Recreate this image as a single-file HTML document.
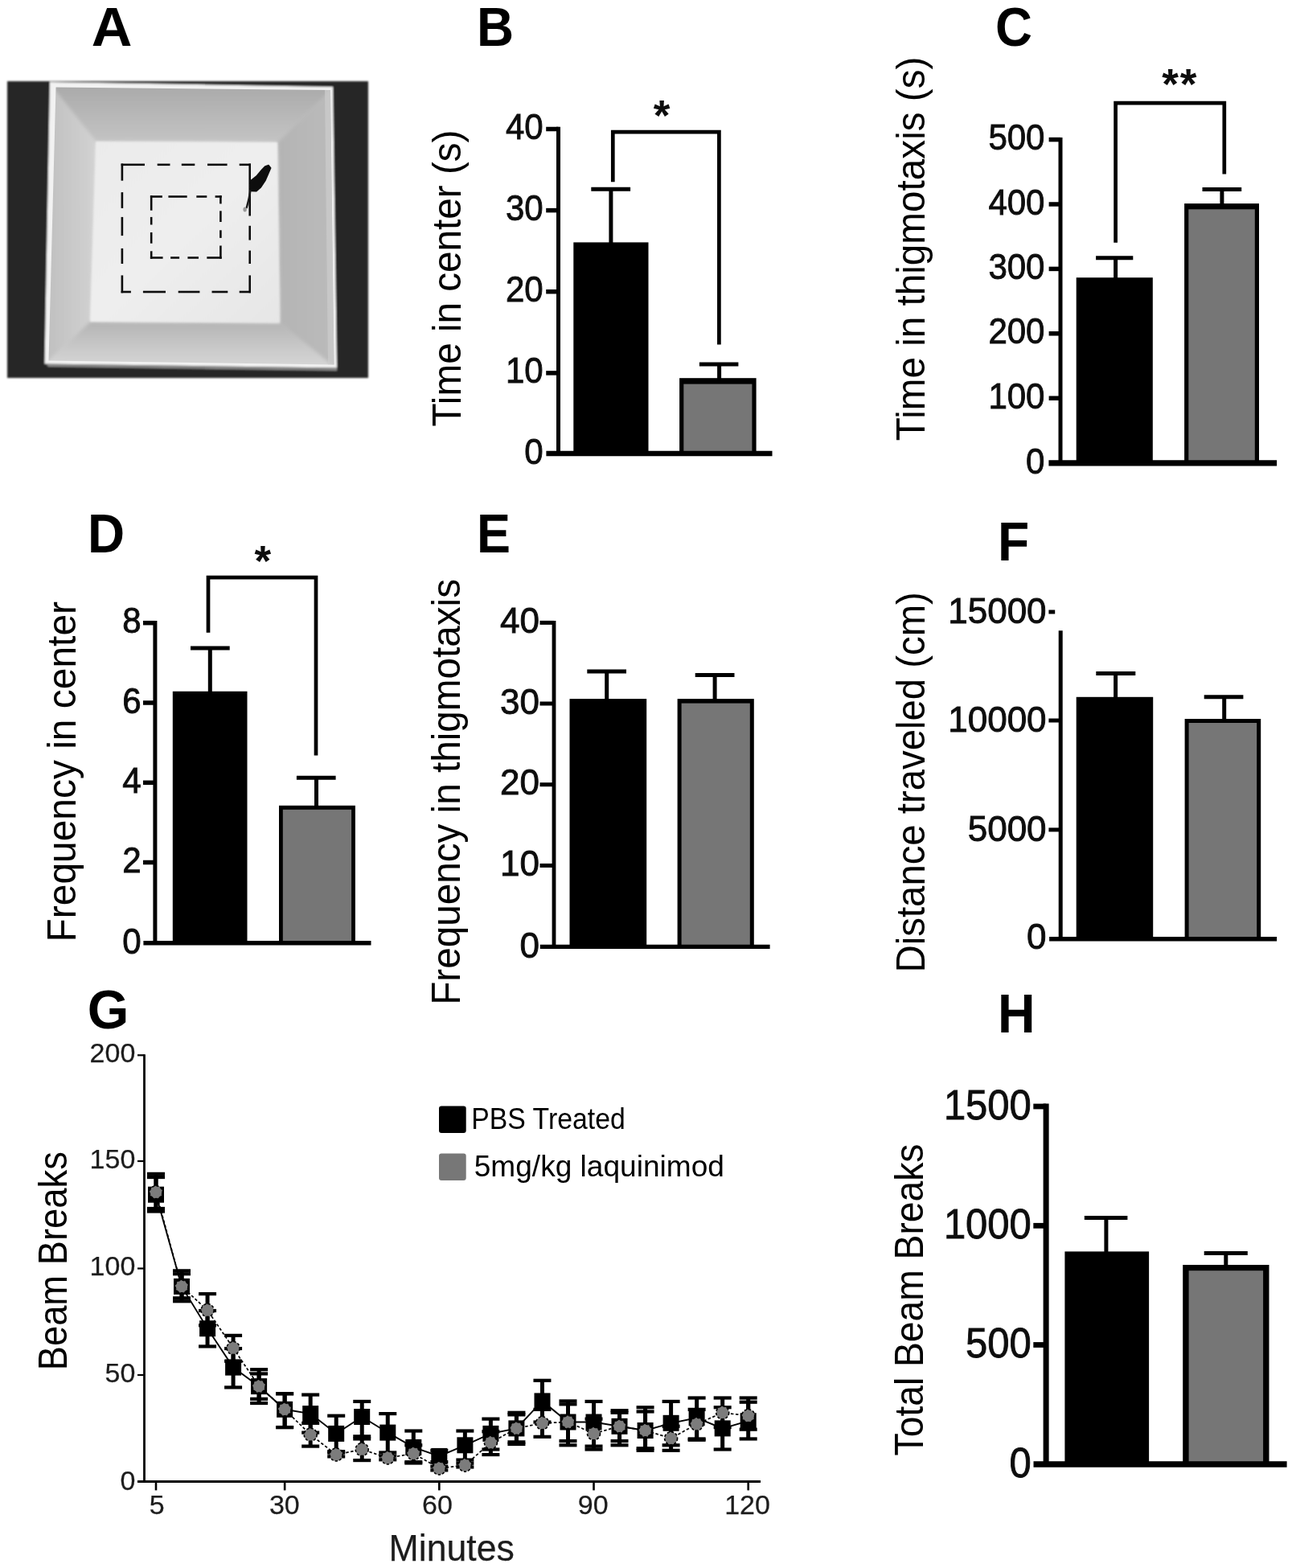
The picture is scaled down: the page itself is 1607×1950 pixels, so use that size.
<!DOCTYPE html>
<html lang="en"><head><meta charset="utf-8"><title>Figure</title>
<style>
html,body{margin:0;padding:0;background:#fff;}
body{width:1607px;height:1950px;overflow:hidden;}
svg{display:block;font-family:"Liberation Sans", sans-serif;}
</style></head><body>
<svg width="1607" height="1950" viewBox="0 0 1607 1950">
<defs>
<linearGradient id="gTop" x1="0" y1="0" x2="0" y2="1"><stop offset="0" stop-color="#a6a6a6"/><stop offset="1" stop-color="#c4c4c4"/></linearGradient>
<linearGradient id="gBot" x1="0" y1="0" x2="0" y2="1"><stop offset="0" stop-color="#b4b4b4"/><stop offset="0.6" stop-color="#cecece"/><stop offset="1" stop-color="#dcdcdc"/></linearGradient>
<linearGradient id="gLeft" x1="0" y1="0" x2="1" y2="0"><stop offset="0" stop-color="#bcbcbc"/><stop offset="1" stop-color="#d2d2d2"/></linearGradient>
<linearGradient id="gRight" x1="1" y1="0" x2="0" y2="0"><stop offset="0" stop-color="#bcbcbc"/><stop offset="1" stop-color="#b4b4b4"/></linearGradient>
<linearGradient id="gFloor" x1="0" y1="0" x2="1" y2="1"><stop offset="0" stop-color="#ebebeb"/><stop offset="0.5" stop-color="#eeeeee"/><stop offset="1" stop-color="#e6e6e6"/></linearGradient>
<filter id="bl0" x="-5%" y="-5%" width="110%" height="110%"><feGaussianBlur stdDeviation="0.4"/></filter>
<filter id="bl" x="-5%" y="-5%" width="110%" height="110%"><feGaussianBlur stdDeviation="1"/></filter>
<filter id="tb" x="-10%" y="-10%" width="120%" height="120%"><feGaussianBlur stdDeviation="0.45"/></filter>
<filter id="tb2" x="-10%" y="-10%" width="120%" height="120%"><feGaussianBlur stdDeviation="0.6"/></filter>
<filter id="bl3" x="-10%" y="-10%" width="120%" height="120%"><feGaussianBlur stdDeviation="2.2"/></filter>
<filter id="bl2" x="-5%" y="-5%" width="110%" height="110%"><feGaussianBlur stdDeviation="1.6"/></filter>
</defs>
<rect width="1607" height="1950" fill="#fff"/>

<text x="113.7" y="56.5" font-size="68.5" text-anchor="start" font-weight="bold" fill="#000" textLength="50.7" lengthAdjust="spacingAndGlyphs">A</text>
<text x="593.1" y="56.5" font-size="68.5" text-anchor="start" font-weight="bold" fill="#000" textLength="46.1" lengthAdjust="spacingAndGlyphs">B</text>
<text x="1237.9" y="56.5" font-size="68.5" text-anchor="start" font-weight="bold" fill="#000" textLength="45.9" lengthAdjust="spacingAndGlyphs">C</text>
<text x="109.1" y="687.2" font-size="68.5" text-anchor="start" font-weight="bold" fill="#000" textLength="46.1" lengthAdjust="spacingAndGlyphs">D</text>
<text x="593" y="687.2" font-size="68.5" text-anchor="start" font-weight="bold" fill="#000" textLength="42.0" lengthAdjust="spacingAndGlyphs">E</text>
<text x="1241.1" y="697.2" font-size="68.5" text-anchor="start" font-weight="bold" fill="#000" textLength="39.2" lengthAdjust="spacingAndGlyphs">F</text>
<text x="108.7" y="1278.8" font-size="68.5" text-anchor="start" font-weight="bold" fill="#000" textLength="51.6" lengthAdjust="spacingAndGlyphs">G</text>
<text x="1241.1" y="1284.2" font-size="68.5" text-anchor="start" font-weight="bold" fill="#000" textLength="46.5" lengthAdjust="spacingAndGlyphs">H</text>
<g filter="url(#bl)">
<rect x="9" y="101" width="449" height="369" fill="#272727"/>
<polygon points="62,102 414,108 419,457.5 55.5,452.5" fill="#f2f2f2"/>
<polygon points="58,453 419,458 419,461 60,456" fill="#8a8a8a"/>
</g>
<clipPath id="wclip"><polygon points="69.5,108.5 411,112 415.5,453.5 60.5,448.5"/></clipPath>
<g clip-path="url(#wclip)"><g filter="url(#bl3)">
<polygon points="55,96 424,100 345,177 119,176" fill="url(#gTop)"/>
<polygon points="55,96 119,176 112,400 46,462" fill="url(#gLeft)"/>
<polygon points="424,100 430,468 348,401.5 345,177" fill="url(#gRight)"/>
<polygon points="46,462 112,400 348,401.5 430,468" fill="url(#gBot)"/>
<polygon points="119,176 345,177 348,401.5 112,400" fill="#d8d8d8"/>
</g>
<polygon points="404,112 411,112 415.5,453.5 408,453.5" fill="#cdcdcd" opacity="0.7"/>
</g>
<g filter="url(#bl)">
<polygon points="119,176 345,177 348,401.5 112,400" fill="url(#gFloor)"/>
</g>
<g filter="url(#bl0)">
<line x1="150.6" y1="204.8" x2="180" y2="204.8" stroke="#111" stroke-width="2.6" stroke-linecap="butt"/>
<line x1="195.7" y1="204.8" x2="211.5" y2="204.8" stroke="#111" stroke-width="2.6" stroke-linecap="butt"/>
<line x1="225.8" y1="204.8" x2="242.3" y2="204.8" stroke="#111" stroke-width="2.6" stroke-linecap="butt"/>
<line x1="258" y1="204.8" x2="282.6" y2="204.8" stroke="#111" stroke-width="2.6" stroke-linecap="butt"/>
<line x1="297.7" y1="204.8" x2="312" y2="204.8" stroke="#111" stroke-width="2.6" stroke-linecap="butt"/>
<line x1="150.6" y1="363" x2="162.9" y2="363" stroke="#111" stroke-width="2.6" stroke-linecap="butt"/>
<line x1="177.9" y1="363" x2="206" y2="363" stroke="#111" stroke-width="2.6" stroke-linecap="butt"/>
<line x1="221.7" y1="363" x2="248.4" y2="363" stroke="#111" stroke-width="2.6" stroke-linecap="butt"/>
<line x1="263.5" y1="363" x2="283.3" y2="363" stroke="#111" stroke-width="2.6" stroke-linecap="butt"/>
<line x1="297.7" y1="363" x2="312" y2="363" stroke="#111" stroke-width="2.6" stroke-linecap="butt"/>
<line x1="151.9" y1="203.5" x2="151.9" y2="224.7" stroke="#111" stroke-width="2.6" stroke-linecap="butt"/>
<line x1="151.9" y1="239.1" x2="151.9" y2="258.9" stroke="#111" stroke-width="2.6" stroke-linecap="butt"/>
<line x1="151.9" y1="269.9" x2="151.9" y2="293.1" stroke="#111" stroke-width="2.6" stroke-linecap="butt"/>
<line x1="151.9" y1="308.9" x2="151.9" y2="328" stroke="#111" stroke-width="2.6" stroke-linecap="butt"/>
<line x1="151.9" y1="342.4" x2="151.9" y2="364.3" stroke="#111" stroke-width="2.6" stroke-linecap="butt"/>
<line x1="310.7" y1="203.5" x2="310.7" y2="268.5" stroke="#111" stroke-width="2.6" stroke-linecap="butt"/>
<line x1="310.7" y1="280.8" x2="310.7" y2="298.6" stroke="#111" stroke-width="2.6" stroke-linecap="butt"/>
<line x1="310.7" y1="311.6" x2="310.7" y2="328" stroke="#111" stroke-width="2.6" stroke-linecap="butt"/>
<line x1="310.7" y1="342.4" x2="310.7" y2="364.3" stroke="#111" stroke-width="2.6" stroke-linecap="butt"/>
<line x1="186.9" y1="244.5" x2="201.9" y2="244.5" stroke="#111" stroke-width="2.6" stroke-linecap="butt"/>
<line x1="209.4" y1="244.5" x2="232.7" y2="244.5" stroke="#111" stroke-width="2.6" stroke-linecap="butt"/>
<line x1="244.3" y1="244.5" x2="257.3" y2="244.5" stroke="#111" stroke-width="2.6" stroke-linecap="butt"/>
<line x1="267.6" y1="244.5" x2="275.7" y2="244.5" stroke="#111" stroke-width="2.6" stroke-linecap="butt"/>
<line x1="186.9" y1="320.5" x2="202.6" y2="320.5" stroke="#111" stroke-width="2.6" stroke-linecap="butt"/>
<line x1="212.1" y1="320.5" x2="223.1" y2="320.5" stroke="#111" stroke-width="2.6" stroke-linecap="butt"/>
<line x1="233.4" y1="320.5" x2="247" y2="320.5" stroke="#111" stroke-width="2.6" stroke-linecap="butt"/>
<line x1="257.3" y1="320.5" x2="275.7" y2="320.5" stroke="#111" stroke-width="2.6" stroke-linecap="butt"/>
<line x1="188.2" y1="243.2" x2="188.2" y2="261.7" stroke="#111" stroke-width="2.6" stroke-linecap="butt"/>
<line x1="188.2" y1="269.9" x2="188.2" y2="279.5" stroke="#111" stroke-width="2.6" stroke-linecap="butt"/>
<line x1="188.2" y1="289" x2="188.2" y2="302.7" stroke="#111" stroke-width="2.6" stroke-linecap="butt"/>
<line x1="188.2" y1="312.3" x2="188.2" y2="321.8" stroke="#111" stroke-width="2.6" stroke-linecap="butt"/>
<line x1="274.4" y1="243.2" x2="274.4" y2="253.4" stroke="#111" stroke-width="2.6" stroke-linecap="butt"/>
<line x1="274.4" y1="262.3" x2="274.4" y2="276" stroke="#111" stroke-width="2.6" stroke-linecap="butt"/>
<line x1="274.4" y1="286.3" x2="274.4" y2="295.9" stroke="#111" stroke-width="2.6" stroke-linecap="butt"/>
<line x1="274.4" y1="305.5" x2="274.4" y2="321.8" stroke="#111" stroke-width="2.6" stroke-linecap="butt"/>
</g>
<g filter="url(#bl0)"><path d="M334,205.5 L336.7,209 L334,215.1 L329.9,224.7 L324.4,232.9 L318.9,237.7 L312,237.4 L310.7,231.5 L312,224.7 L318.9,219.2 L325.8,211 L329.9,206.9 Z" fill="#0d0d0d" stroke="#0d0d0d" stroke-width="1.5" stroke-linejoin="round"/><path d="M311.5,236 C310.5,245 308.5,252 306.5,259" stroke="#1a1a1a" stroke-width="2.4" fill="none"/><ellipse cx="304.6" cy="260.5" rx="2.2" ry="3" fill="#9a9a9a"/></g>
<rect x="713.3" y="301.4" width="93.2" height="262.6" fill="#000"/>
<rect x="845.1" y="470.2" width="95.5" height="93.8" fill="#000"/>
<rect x="850.3" y="477.6" width="85.1" height="86.4" fill="#767676"/>
<line x1="759.9" y1="235.2" x2="759.9" y2="303" stroke="#000" stroke-width="5" stroke-linecap="butt"/>
<line x1="735.3" y1="235.2" x2="784.1" y2="235.2" stroke="#000" stroke-width="5" stroke-linecap="butt"/>
<line x1="894.6" y1="452.9" x2="894.6" y2="472" stroke="#000" stroke-width="5" stroke-linecap="butt"/>
<line x1="869.9" y1="452.9" x2="918.4" y2="452.9" stroke="#000" stroke-width="5" stroke-linecap="butt"/>
<line x1="694.5" y1="157.8" x2="694.5" y2="564" stroke="#000" stroke-width="5" stroke-linecap="butt"/>
<line x1="679.4" y1="564" x2="960.5" y2="564" stroke="#000" stroke-width="6.5" stroke-linecap="butt"/>
<line x1="679.2" y1="160.5" x2="694.5" y2="160.5" stroke="#000" stroke-width="5.5" stroke-linecap="butt"/>
<line x1="679.2" y1="261.6" x2="694.5" y2="261.6" stroke="#000" stroke-width="5.5" stroke-linecap="butt"/>
<line x1="679.2" y1="362.7" x2="694.5" y2="362.7" stroke="#000" stroke-width="5.5" stroke-linecap="butt"/>
<line x1="679.2" y1="463.9" x2="694.5" y2="463.9" stroke="#000" stroke-width="5.5" stroke-linecap="butt"/>
<text x="675.6" y="173.0" font-size="44" text-anchor="end" font-weight="normal" fill="#111" textLength="46.7" lengthAdjust="spacingAndGlyphs" stroke="#111" stroke-width="0.9" filter="url(#tb)">40</text>
<text x="675.6" y="274.1" font-size="44" text-anchor="end" font-weight="normal" fill="#111" textLength="46.7" lengthAdjust="spacingAndGlyphs" stroke="#111" stroke-width="0.9" filter="url(#tb)">30</text>
<text x="675.6" y="375.2" font-size="44" text-anchor="end" font-weight="normal" fill="#111" textLength="46.7" lengthAdjust="spacingAndGlyphs" stroke="#111" stroke-width="0.9" filter="url(#tb)">20</text>
<text x="675.6" y="476.4" font-size="44" text-anchor="end" font-weight="normal" fill="#111" textLength="46.7" lengthAdjust="spacingAndGlyphs" stroke="#111" stroke-width="0.9" filter="url(#tb)">10</text>
<text x="675.6" y="577.2" font-size="44" text-anchor="end" font-weight="normal" fill="#111" textLength="23.4" lengthAdjust="spacingAndGlyphs" stroke="#111" stroke-width="0.9" filter="url(#tb)">0</text>
<polyline points="762.3,226.2 762.3,164.2 894.4,164.2 894.4,428.4" fill="none" stroke="#000" stroke-width="4.7"/>
<text x="823.1" y="161.85" font-size="53" text-anchor="middle" font-weight="bold" fill="#0a0a0a" filter="url(#tb)">*</text>
<text transform="translate(572.7,530.5) rotate(-90)" font-size="49.5" fill="#000" textLength="369.0" lengthAdjust="spacingAndGlyphs">Time in center (s)</text>
<rect x="1338.7" y="345.2" width="95.1" height="230.7" fill="#000"/>
<rect x="1473.1" y="253.1" width="92.9" height="322.8" fill="#000"/>
<rect x="1478.3" y="260.3" width="82.5" height="315.6" fill="#767676"/>
<line x1="1387.6" y1="320.8" x2="1387.6" y2="347" stroke="#000" stroke-width="5" stroke-linecap="butt"/>
<line x1="1363.1" y1="320.8" x2="1409.3" y2="320.8" stroke="#000" stroke-width="5" stroke-linecap="butt"/>
<line x1="1519.9" y1="235.6" x2="1519.9" y2="255" stroke="#000" stroke-width="5" stroke-linecap="butt"/>
<line x1="1495.5" y1="235.6" x2="1544.2" y2="235.6" stroke="#000" stroke-width="5" stroke-linecap="butt"/>
<line x1="1319" y1="171" x2="1319" y2="575.9" stroke="#000" stroke-width="5" stroke-linecap="butt"/>
<line x1="1304.4" y1="575.9" x2="1588.1" y2="575.9" stroke="#000" stroke-width="7.2" stroke-linecap="butt"/>
<line x1="1304.6" y1="173.6" x2="1319" y2="173.6" stroke="#000" stroke-width="5.5" stroke-linecap="butt"/>
<line x1="1304.6" y1="254" x2="1319" y2="254" stroke="#000" stroke-width="5.5" stroke-linecap="butt"/>
<line x1="1304.6" y1="334.4" x2="1319" y2="334.4" stroke="#000" stroke-width="5.5" stroke-linecap="butt"/>
<line x1="1304.6" y1="414.8" x2="1319" y2="414.8" stroke="#000" stroke-width="5.5" stroke-linecap="butt"/>
<line x1="1304.6" y1="495.2" x2="1319" y2="495.2" stroke="#000" stroke-width="5.5" stroke-linecap="butt"/>
<text x="1299.5" y="186.1" font-size="44" text-anchor="end" font-weight="normal" fill="#111" textLength="70.1" lengthAdjust="spacingAndGlyphs" stroke="#111" stroke-width="0.9" filter="url(#tb)">500</text>
<text x="1299.5" y="266.5" font-size="44" text-anchor="end" font-weight="normal" fill="#111" textLength="70.1" lengthAdjust="spacingAndGlyphs" stroke="#111" stroke-width="0.9" filter="url(#tb)">400</text>
<text x="1299.5" y="346.9" font-size="44" text-anchor="end" font-weight="normal" fill="#111" textLength="70.1" lengthAdjust="spacingAndGlyphs" stroke="#111" stroke-width="0.9" filter="url(#tb)">300</text>
<text x="1299.5" y="427.3" font-size="44" text-anchor="end" font-weight="normal" fill="#111" textLength="70.1" lengthAdjust="spacingAndGlyphs" stroke="#111" stroke-width="0.9" filter="url(#tb)">200</text>
<text x="1299.5" y="507.7" font-size="44" text-anchor="end" font-weight="normal" fill="#111" textLength="70.1" lengthAdjust="spacingAndGlyphs" stroke="#111" stroke-width="0.9" filter="url(#tb)">100</text>
<text x="1299.5" y="589.0" font-size="44" text-anchor="end" font-weight="normal" fill="#111" textLength="23.4" lengthAdjust="spacingAndGlyphs" stroke="#111" stroke-width="0.9" filter="url(#tb)">0</text>
<polyline points="1387.6,301.8 1387.6,128.1 1522.8,128.1 1522.8,216.5" fill="none" stroke="#000" stroke-width="4.7"/>
<text x="1455.6" y="123.45" font-size="53" text-anchor="middle" font-weight="bold" fill="#0a0a0a" filter="url(#tb)">*</text>
<text x="1478.1" y="123.45" font-size="53" text-anchor="middle" font-weight="bold" fill="#0a0a0a" filter="url(#tb)">*</text>
<text transform="translate(1150,548.2) rotate(-90)" font-size="49.5" fill="#000" textLength="477.6" lengthAdjust="spacingAndGlyphs">Time in thigmotaxis (s)</text>
<rect x="214.8" y="859.8" width="92.7" height="313.0" fill="#000"/>
<rect x="347" y="1001.8" width="94.9" height="171.0" fill="#000"/>
<rect x="351.8" y="1006.8" width="85.3" height="166.0" fill="#767676"/>
<line x1="261.3" y1="806" x2="261.3" y2="861" stroke="#000" stroke-width="5" stroke-linecap="butt"/>
<line x1="237" y1="806" x2="285.7" y2="806" stroke="#000" stroke-width="5" stroke-linecap="butt"/>
<line x1="393.5" y1="967.2" x2="393.5" y2="1003" stroke="#000" stroke-width="5" stroke-linecap="butt"/>
<line x1="368.9" y1="967.2" x2="417.6" y2="967.2" stroke="#000" stroke-width="5" stroke-linecap="butt"/>
<line x1="192.9" y1="772" x2="192.9" y2="1172.8" stroke="#000" stroke-width="5" stroke-linecap="butt"/>
<line x1="178.4" y1="1172.8" x2="461.5" y2="1172.8" stroke="#000" stroke-width="5.5" stroke-linecap="butt"/>
<line x1="178" y1="774.7" x2="192.9" y2="774.7" stroke="#000" stroke-width="5.5" stroke-linecap="butt"/>
<line x1="178" y1="874" x2="192.9" y2="874" stroke="#000" stroke-width="5.5" stroke-linecap="butt"/>
<line x1="178" y1="973.3" x2="192.9" y2="973.3" stroke="#000" stroke-width="5.5" stroke-linecap="butt"/>
<line x1="178" y1="1072.5" x2="192.9" y2="1072.5" stroke="#000" stroke-width="5.5" stroke-linecap="butt"/>
<text x="175.7" y="787.2" font-size="44" text-anchor="end" font-weight="normal" fill="#111" textLength="23.4" lengthAdjust="spacingAndGlyphs" stroke="#111" stroke-width="0.9" filter="url(#tb)">8</text>
<text x="175.7" y="886.5" font-size="44" text-anchor="end" font-weight="normal" fill="#111" textLength="23.4" lengthAdjust="spacingAndGlyphs" stroke="#111" stroke-width="0.9" filter="url(#tb)">6</text>
<text x="175.7" y="985.8" font-size="44" text-anchor="end" font-weight="normal" fill="#111" textLength="23.4" lengthAdjust="spacingAndGlyphs" stroke="#111" stroke-width="0.9" filter="url(#tb)">4</text>
<text x="175.7" y="1085.0" font-size="44" text-anchor="end" font-weight="normal" fill="#111" textLength="23.4" lengthAdjust="spacingAndGlyphs" stroke="#111" stroke-width="0.9" filter="url(#tb)">2</text>
<text x="175.7" y="1185.5" font-size="44" text-anchor="end" font-weight="normal" fill="#111" textLength="23.4" lengthAdjust="spacingAndGlyphs" stroke="#111" stroke-width="0.9" filter="url(#tb)">0</text>
<polyline points="259,786.7 259,718.1 393,718.1 393,939.6" fill="none" stroke="#000" stroke-width="4.7"/>
<text x="326.9" y="715.65" font-size="53" text-anchor="middle" font-weight="bold" fill="#0a0a0a" filter="url(#tb)">*</text>
<text transform="translate(94.1,1171.5) rotate(-90)" font-size="49.5" fill="#000" textLength="423.5" lengthAdjust="spacingAndGlyphs">Frequency in center</text>
<rect x="708.5" y="869.1" width="95.7" height="308.3" fill="#000"/>
<rect x="842.6" y="869.1" width="95.2" height="308.3" fill="#000"/>
<rect x="847.6" y="874.6" width="85.2" height="302.8" fill="#767676"/>
<line x1="754.7" y1="835" x2="754.7" y2="871" stroke="#000" stroke-width="5" stroke-linecap="butt"/>
<line x1="730.3" y1="835" x2="779" y2="835" stroke="#000" stroke-width="5" stroke-linecap="butt"/>
<line x1="889.1" y1="839.4" x2="889.1" y2="871" stroke="#000" stroke-width="5" stroke-linecap="butt"/>
<line x1="864.7" y1="839.4" x2="913.5" y2="839.4" stroke="#000" stroke-width="5" stroke-linecap="butt"/>
<line x1="689" y1="772" x2="689" y2="1177.4" stroke="#000" stroke-width="4.8" stroke-linecap="butt"/>
<line x1="671.8" y1="1177.4" x2="957.6" y2="1177.4" stroke="#000" stroke-width="5.2" stroke-linecap="butt"/>
<line x1="671.5" y1="774.4" x2="689" y2="774.4" stroke="#000" stroke-width="5" stroke-linecap="butt"/>
<line x1="671.5" y1="875" x2="689" y2="875" stroke="#000" stroke-width="5" stroke-linecap="butt"/>
<line x1="671.5" y1="975.7" x2="689" y2="975.7" stroke="#000" stroke-width="5" stroke-linecap="butt"/>
<line x1="671.5" y1="1076.4" x2="689" y2="1076.4" stroke="#000" stroke-width="5" stroke-linecap="butt"/>
<text x="670.9" y="786.9" font-size="44" text-anchor="end" font-weight="normal" fill="#111" stroke="#111" stroke-width="0.9" filter="url(#tb)">40</text>
<text x="670.9" y="887.5" font-size="44" text-anchor="end" font-weight="normal" fill="#111" stroke="#111" stroke-width="0.9" filter="url(#tb)">30</text>
<text x="670.9" y="988.2" font-size="44" text-anchor="end" font-weight="normal" fill="#111" stroke="#111" stroke-width="0.9" filter="url(#tb)">20</text>
<text x="670.9" y="1088.9" font-size="44" text-anchor="end" font-weight="normal" fill="#111" stroke="#111" stroke-width="0.9" filter="url(#tb)">10</text>
<text x="670.9" y="1190.5" font-size="44" text-anchor="end" font-weight="normal" fill="#111" stroke="#111" stroke-width="0.9" filter="url(#tb)">0</text>
<text transform="translate(571.7,1249.8) rotate(-90)" font-size="49.5" fill="#000" textLength="529.8" lengthAdjust="spacingAndGlyphs">Frequency in thigmotaxis</text>
<rect x="1338.7" y="866.8" width="95.5" height="301.0" fill="#000"/>
<rect x="1473.6" y="894" width="94.6" height="273.8" fill="#000"/>
<rect x="1478.6" y="899.0" width="84.6" height="268.8" fill="#767676"/>
<line x1="1387.6" y1="837.4" x2="1387.6" y2="868" stroke="#000" stroke-width="5" stroke-linecap="butt"/>
<line x1="1363.3" y1="837.4" x2="1412.3" y2="837.4" stroke="#000" stroke-width="5" stroke-linecap="butt"/>
<line x1="1522.7" y1="866.7" x2="1522.7" y2="896" stroke="#000" stroke-width="5" stroke-linecap="butt"/>
<line x1="1497.7" y1="866.7" x2="1546.4" y2="866.7" stroke="#000" stroke-width="5" stroke-linecap="butt"/>
<line x1="1319.2" y1="784.3" x2="1319.2" y2="1167.8" stroke="#000" stroke-width="5" stroke-linecap="butt"/>
<line x1="1305.1" y1="1167.8" x2="1588.1" y2="1167.8" stroke="#000" stroke-width="5.4" stroke-linecap="butt"/>
<line x1="1304.4" y1="896" x2="1319.2" y2="896" stroke="#000" stroke-width="5" stroke-linecap="butt"/>
<line x1="1304.4" y1="1031.9" x2="1319.2" y2="1031.9" stroke="#000" stroke-width="5" stroke-linecap="butt"/>
<text x="1301.6" y="775.4" font-size="44" text-anchor="end" font-weight="normal" fill="#111" stroke="#111" stroke-width="0.9" filter="url(#tb)">15000</text>
<text x="1301.6" y="910.4" font-size="44" text-anchor="end" font-weight="normal" fill="#111" stroke="#111" stroke-width="0.9" filter="url(#tb)">10000</text>
<text x="1301.6" y="1046.3" font-size="44" text-anchor="end" font-weight="normal" fill="#111" stroke="#111" stroke-width="0.9" filter="url(#tb)">5000</text>
<text x="1301.6" y="1179.6" font-size="44" text-anchor="end" font-weight="normal" fill="#111" stroke="#111" stroke-width="0.9" filter="url(#tb)">0</text>
<line x1="1304.4" y1="761" x2="1312.2" y2="761" stroke="#000" stroke-width="5" stroke-linecap="butt"/>
<text transform="translate(1149.5,1209.4) rotate(-90)" font-size="49.5" fill="#000" textLength="473.2" lengthAdjust="spacingAndGlyphs">Distance traveled (cm)</text>
<rect x="1324.4" y="1556.4" width="104.7" height="264.7" fill="#000"/>
<rect x="1471.2" y="1573" width="107.3" height="248.1" fill="#000"/>
<rect x="1478.6" y="1580.2" width="92.5" height="240.9" fill="#767676"/>
<line x1="1375.9" y1="1514.5" x2="1375.9" y2="1558" stroke="#000" stroke-width="5" stroke-linecap="butt"/>
<line x1="1348.8" y1="1514.5" x2="1402.4" y2="1514.5" stroke="#000" stroke-width="5" stroke-linecap="butt"/>
<line x1="1524.8" y1="1558.6" x2="1524.8" y2="1575" stroke="#000" stroke-width="5" stroke-linecap="butt"/>
<line x1="1497.7" y1="1558.6" x2="1551.8" y2="1558.6" stroke="#000" stroke-width="5" stroke-linecap="butt"/>
<line x1="1301.1" y1="1372.6" x2="1301.1" y2="1821.1" stroke="#000" stroke-width="7" stroke-linecap="butt"/>
<line x1="1285.5" y1="1821.1" x2="1600.6" y2="1821.1" stroke="#000" stroke-width="7.5" stroke-linecap="butt"/>
<line x1="1285.3" y1="1376" x2="1301.1" y2="1376" stroke="#000" stroke-width="6.8" stroke-linecap="butt"/>
<line x1="1285.3" y1="1524.3" x2="1301.1" y2="1524.3" stroke="#000" stroke-width="6.8" stroke-linecap="butt"/>
<line x1="1285.3" y1="1672.5" x2="1301.1" y2="1672.5" stroke="#000" stroke-width="6.8" stroke-linecap="butt"/>
<text x="1282.8" y="1391.5" font-size="51" text-anchor="end" font-weight="normal" fill="#111" textLength="108.9" lengthAdjust="spacingAndGlyphs" stroke="#111" stroke-width="0.9" filter="url(#tb)">1500</text>
<text x="1282.8" y="1539.8" font-size="51" text-anchor="end" font-weight="normal" fill="#111" textLength="108.9" lengthAdjust="spacingAndGlyphs" stroke="#111" stroke-width="0.9" filter="url(#tb)">1000</text>
<text x="1282.8" y="1688.0" font-size="51" text-anchor="end" font-weight="normal" fill="#111" textLength="81.7" lengthAdjust="spacingAndGlyphs" stroke="#111" stroke-width="0.9" filter="url(#tb)">500</text>
<text x="1282.8" y="1837.0" font-size="51" text-anchor="end" font-weight="normal" fill="#111" textLength="27.2" lengthAdjust="spacingAndGlyphs" stroke="#111" stroke-width="0.9" filter="url(#tb)">0</text>
<text transform="translate(1147.5,1810.4) rotate(-90)" font-size="49.5" fill="#000" textLength="387.8" lengthAdjust="spacingAndGlyphs">Total Beam Breaks</text>
<line x1="179.5" y1="1311.3" x2="179.5" y2="1842.6" stroke="#000" stroke-width="2.8" stroke-linecap="butt"/>
<line x1="171" y1="1842.6" x2="946" y2="1842.6" stroke="#000" stroke-width="3" stroke-linecap="butt"/>
<line x1="171" y1="1312.3" x2="179.5" y2="1312.3" stroke="#000" stroke-width="2.2" stroke-linecap="butt"/>
<text x="168.3" y="1321.0" font-size="34" text-anchor="end" font-weight="normal" fill="#1c1c1c" stroke="#222" stroke-width="0.25" filter="url(#tb2)">200</text>
<line x1="171" y1="1444" x2="179.5" y2="1444" stroke="#000" stroke-width="2.2" stroke-linecap="butt"/>
<text x="168.3" y="1452.7" font-size="34" text-anchor="end" font-weight="normal" fill="#1c1c1c" stroke="#222" stroke-width="0.25" filter="url(#tb2)">150</text>
<line x1="171" y1="1577.5" x2="179.5" y2="1577.5" stroke="#000" stroke-width="2.2" stroke-linecap="butt"/>
<text x="168.3" y="1586.2" font-size="34" text-anchor="end" font-weight="normal" fill="#1c1c1c" stroke="#222" stroke-width="0.25" filter="url(#tb2)">100</text>
<line x1="171" y1="1710" x2="179.5" y2="1710" stroke="#000" stroke-width="2.2" stroke-linecap="butt"/>
<text x="168.3" y="1718.7" font-size="34" text-anchor="end" font-weight="normal" fill="#1c1c1c" stroke="#222" stroke-width="0.25" filter="url(#tb2)">50</text>
<text x="168.3" y="1853.0" font-size="34" text-anchor="end" font-weight="normal" fill="#1c1c1c" stroke="#222" stroke-width="0.25" filter="url(#tb2)">0</text>
<line x1="194.0" y1="1842.6" x2="194.0" y2="1853.4" stroke="#000" stroke-width="2.6" stroke-linecap="butt"/>
<text x="195.3" y="1883" font-size="34" text-anchor="middle" font-weight="normal" fill="#1c1c1c" stroke="#222" stroke-width="0.25" filter="url(#tb2)">5</text>
<line x1="354.15" y1="1842.6" x2="354.15" y2="1853.4" stroke="#000" stroke-width="2.6" stroke-linecap="butt"/>
<text x="353.8" y="1883" font-size="34" text-anchor="middle" font-weight="normal" fill="#1c1c1c" stroke="#222" stroke-width="0.25" filter="url(#tb2)">30</text>
<line x1="546.3299999999999" y1="1842.6" x2="546.3299999999999" y2="1853.4" stroke="#000" stroke-width="2.6" stroke-linecap="butt"/>
<text x="544" y="1883" font-size="34" text-anchor="middle" font-weight="normal" fill="#1c1c1c" stroke="#222" stroke-width="0.25" filter="url(#tb2)">60</text>
<line x1="738.51" y1="1842.6" x2="738.51" y2="1853.4" stroke="#000" stroke-width="2.6" stroke-linecap="butt"/>
<text x="737.7" y="1883" font-size="34" text-anchor="middle" font-weight="normal" fill="#1c1c1c" stroke="#222" stroke-width="0.25" filter="url(#tb2)">90</text>
<line x1="930.6899999999999" y1="1842.6" x2="930.6899999999999" y2="1853.4" stroke="#000" stroke-width="2.6" stroke-linecap="butt"/>
<text x="929.5" y="1883" font-size="34" text-anchor="middle" font-weight="normal" fill="#1c1c1c" stroke="#222" stroke-width="0.25" filter="url(#tb2)">120</text>
<text x="483.6" y="1940.6" font-size="46" text-anchor="start" font-weight="normal" fill="#1c1c1c" textLength="156.2" lengthAdjust="spacingAndGlyphs" stroke="#222" stroke-width="0.25" filter="url(#tb2)">Minutes</text>
<text transform="translate(82.5,1704.3) rotate(-90)" font-size="49.5" fill="#000" textLength="272.1" lengthAdjust="spacingAndGlyphs">Beam Breaks</text>
<polyline points="194.0,1485.7 226.0,1599.9 258.1,1652.2 290.1,1700.6 322.1,1724.1 354.1,1752.8 386.2,1758.1 418.2,1782.9 450.2,1762.0 482.3,1781.6 514.3,1799.9 546.3,1810.9 578.4,1797.3 610.4,1782.9 642.4,1776.4 674.5,1742.4 706.5,1768.5 738.5,1768.5 770.5,1773.8 802.6,1779.0 834.6,1769.8 866.6,1763.3 898.7,1776.4 930.7,1767.2" fill="none" stroke="#000" stroke-width="1.9"/>
<polyline points="194.0,1482.7 226.0,1599.9 258.1,1629.5 290.1,1676.5 322.1,1724.1 354.1,1752.8 386.2,1784.2 418.2,1809.0 450.2,1802.5 482.3,1813.0 514.3,1807.7 546.3,1826.0 578.4,1822.1 610.4,1794.1 642.4,1776.4 674.5,1769.8 706.5,1768.5 738.5,1782.9 770.5,1773.8 802.6,1779.0 834.6,1788.7 866.6,1771.1 898.7,1756.8 930.7,1760.7" fill="none" stroke="#000" stroke-width="1.7" stroke-dasharray="3.5 2.5"/>
<line x1="194.0" y1="1459.8536330371144" x2="194.0" y2="1506.508102456874" stroke="#000" stroke-width="5" stroke-linecap="butt"/>
<line x1="183.0" y1="1459.8536330371144" x2="205.0" y2="1459.8536330371144" stroke="#000" stroke-width="4.2" stroke-linecap="butt"/>
<line x1="183.0" y1="1506.508102456874" x2="205.0" y2="1506.508102456874" stroke="#000" stroke-width="4.2" stroke-linecap="butt"/>
<rect x="184.0" y="1475.7" width="20" height="20" fill="#000"/>
<line x1="226.03" y1="1580.3450078410874" x2="226.03" y2="1618.2435964453737" stroke="#000" stroke-width="5" stroke-linecap="butt"/>
<line x1="215.03" y1="1580.3450078410874" x2="237.03" y2="1580.3450078410874" stroke="#000" stroke-width="4.2" stroke-linecap="butt"/>
<line x1="215.03" y1="1618.2435964453737" x2="237.03" y2="1618.2435964453737" stroke="#000" stroke-width="4.2" stroke-linecap="butt"/>
<rect x="216.0" y="1589.9" width="20" height="20" fill="#000"/>
<line x1="258.06" y1="1630.0052273915317" x2="258.06" y2="1674.4380554103502" stroke="#000" stroke-width="5" stroke-linecap="butt"/>
<line x1="247.06" y1="1630.0052273915317" x2="269.06" y2="1630.0052273915317" stroke="#000" stroke-width="4.2" stroke-linecap="butt"/>
<line x1="247.06" y1="1674.4380554103502" x2="269.06" y2="1674.4380554103502" stroke="#000" stroke-width="4.2" stroke-linecap="butt"/>
<rect x="248.1" y="1642.2" width="20" height="20" fill="#000"/>
<line x1="290.09" y1="1677.0517511761632" x2="290.09" y2="1725.405122843701" stroke="#000" stroke-width="5" stroke-linecap="butt"/>
<line x1="279.09" y1="1677.0517511761632" x2="301.09" y2="1677.0517511761632" stroke="#000" stroke-width="4.2" stroke-linecap="butt"/>
<line x1="279.09" y1="1725.405122843701" x2="301.09" y2="1725.405122843701" stroke="#000" stroke-width="4.2" stroke-linecap="butt"/>
<rect x="280.1" y="1690.6" width="20" height="20" fill="#000"/>
<line x1="322.12" y1="1703.1887088342917" x2="322.12" y2="1745.0078410872975" stroke="#000" stroke-width="5" stroke-linecap="butt"/>
<line x1="311.12" y1="1703.1887088342917" x2="333.12" y2="1703.1887088342917" stroke="#000" stroke-width="4.2" stroke-linecap="butt"/>
<line x1="311.12" y1="1745.0078410872975" x2="333.12" y2="1745.0078410872975" stroke="#000" stroke-width="4.2" stroke-linecap="butt"/>
<rect x="312.1" y="1714.1" width="20" height="20" fill="#000"/>
<line x1="354.15" y1="1733.2462101411395" x2="354.15" y2="1775.0653423941453" stroke="#000" stroke-width="5" stroke-linecap="butt"/>
<line x1="343.15" y1="1733.2462101411395" x2="365.15" y2="1733.2462101411395" stroke="#000" stroke-width="4.2" stroke-linecap="butt"/>
<line x1="343.15" y1="1775.0653423941453" x2="365.15" y2="1775.0653423941453" stroke="#000" stroke-width="4.2" stroke-linecap="butt"/>
<rect x="344.1" y="1742.8" width="20" height="20" fill="#000"/>
<line x1="386.17999999999995" y1="1734.553058024046" x2="386.17999999999995" y2="1781.5995818086774" stroke="#000" stroke-width="5" stroke-linecap="butt"/>
<line x1="375.17999999999995" y1="1734.553058024046" x2="397.17999999999995" y2="1734.553058024046" stroke="#000" stroke-width="4.2" stroke-linecap="butt"/>
<line x1="375.17999999999995" y1="1781.5995818086774" x2="397.17999999999995" y2="1781.5995818086774" stroke="#000" stroke-width="4.2" stroke-linecap="butt"/>
<rect x="376.2" y="1748.1" width="20" height="20" fill="#000"/>
<line x1="418.21" y1="1760.6900156821746" x2="418.21" y2="1805.1228437009931" stroke="#000" stroke-width="5" stroke-linecap="butt"/>
<line x1="407.21" y1="1760.6900156821746" x2="429.21" y2="1760.6900156821746" stroke="#000" stroke-width="4.2" stroke-linecap="butt"/>
<line x1="407.21" y1="1805.1228437009931" x2="429.21" y2="1805.1228437009931" stroke="#000" stroke-width="4.2" stroke-linecap="butt"/>
<rect x="408.2" y="1772.9" width="20" height="20" fill="#000"/>
<line x1="450.24" y1="1742.916884474647" x2="450.24" y2="1786.3042341871405" stroke="#000" stroke-width="5" stroke-linecap="butt"/>
<line x1="439.24" y1="1742.916884474647" x2="461.24" y2="1742.916884474647" stroke="#000" stroke-width="4.2" stroke-linecap="butt"/>
<line x1="439.24" y1="1786.3042341871405" x2="461.24" y2="1786.3042341871405" stroke="#000" stroke-width="4.2" stroke-linecap="butt"/>
<rect x="440.2" y="1752.0" width="20" height="20" fill="#000"/>
<line x1="482.27" y1="1758.0763199163616" x2="482.27" y2="1806.4296915838995" stroke="#000" stroke-width="5" stroke-linecap="butt"/>
<line x1="471.27" y1="1758.0763199163616" x2="493.27" y2="1758.0763199163616" stroke="#000" stroke-width="4.2" stroke-linecap="butt"/>
<line x1="471.27" y1="1806.4296915838995" x2="493.27" y2="1806.4296915838995" stroke="#000" stroke-width="4.2" stroke-linecap="butt"/>
<rect x="472.3" y="1771.6" width="20" height="20" fill="#000"/>
<line x1="514.3" y1="1779.5086251960272" x2="514.3" y2="1819.4981704129639" stroke="#000" stroke-width="5" stroke-linecap="butt"/>
<line x1="503.29999999999995" y1="1779.5086251960272" x2="525.3" y2="1779.5086251960272" stroke="#000" stroke-width="4.2" stroke-linecap="butt"/>
<line x1="503.29999999999995" y1="1819.4981704129639" x2="525.3" y2="1819.4981704129639" stroke="#000" stroke-width="4.2" stroke-linecap="butt"/>
<rect x="504.3" y="1789.9" width="20" height="20" fill="#000"/>
<line x1="546.3299999999999" y1="1803.8159958180868" x2="546.3299999999999" y2="1818.1913225300575" stroke="#000" stroke-width="5" stroke-linecap="butt"/>
<line x1="535.3299999999999" y1="1803.8159958180868" x2="557.3299999999999" y2="1803.8159958180868" stroke="#000" stroke-width="4.2" stroke-linecap="butt"/>
<line x1="535.3299999999999" y1="1818.1913225300575" x2="557.3299999999999" y2="1818.1913225300575" stroke="#000" stroke-width="4.2" stroke-linecap="butt"/>
<rect x="536.3" y="1800.9" width="20" height="20" fill="#000"/>
<line x1="578.3599999999999" y1="1779.5086251960272" x2="578.3599999999999" y2="1815.5776267642445" stroke="#000" stroke-width="5" stroke-linecap="butt"/>
<line x1="567.3599999999999" y1="1779.5086251960272" x2="589.3599999999999" y2="1779.5086251960272" stroke="#000" stroke-width="4.2" stroke-linecap="butt"/>
<line x1="567.3599999999999" y1="1815.5776267642445" x2="589.3599999999999" y2="1815.5776267642445" stroke="#000" stroke-width="4.2" stroke-linecap="butt"/>
<rect x="568.4" y="1787.3" width="20" height="20" fill="#000"/>
<line x1="610.39" y1="1764.610559330894" x2="610.39" y2="1802.5091479351804" stroke="#000" stroke-width="5" stroke-linecap="butt"/>
<line x1="599.39" y1="1764.610559330894" x2="621.39" y2="1764.610559330894" stroke="#000" stroke-width="4.2" stroke-linecap="butt"/>
<line x1="599.39" y1="1802.5091479351804" x2="621.39" y2="1802.5091479351804" stroke="#000" stroke-width="4.2" stroke-linecap="butt"/>
<rect x="600.4" y="1772.9" width="20" height="20" fill="#000"/>
<line x1="642.42" y1="1756.7694720334553" x2="642.42" y2="1795.9749085206481" stroke="#000" stroke-width="5" stroke-linecap="butt"/>
<line x1="631.42" y1="1756.7694720334553" x2="653.42" y2="1756.7694720334553" stroke="#000" stroke-width="4.2" stroke-linecap="butt"/>
<line x1="631.42" y1="1795.9749085206481" x2="653.42" y2="1795.9749085206481" stroke="#000" stroke-width="4.2" stroke-linecap="butt"/>
<rect x="632.4" y="1766.4" width="20" height="20" fill="#000"/>
<line x1="674.45" y1="1716.7799268165186" x2="674.45" y2="1768.5311029796133" stroke="#000" stroke-width="5" stroke-linecap="butt"/>
<line x1="663.45" y1="1716.7799268165186" x2="685.45" y2="1716.7799268165186" stroke="#000" stroke-width="4.2" stroke-linecap="butt"/>
<line x1="663.45" y1="1768.5311029796133" x2="685.45" y2="1768.5311029796133" stroke="#000" stroke-width="4.2" stroke-linecap="butt"/>
<rect x="664.5" y="1732.4" width="20" height="20" fill="#000"/>
<line x1="706.48" y1="1742.3941453214845" x2="706.48" y2="1797.2817564035545" stroke="#000" stroke-width="5" stroke-linecap="butt"/>
<line x1="695.48" y1="1742.3941453214845" x2="717.48" y2="1742.3941453214845" stroke="#000" stroke-width="4.2" stroke-linecap="butt"/>
<line x1="695.48" y1="1797.2817564035545" x2="717.48" y2="1797.2817564035545" stroke="#000" stroke-width="4.2" stroke-linecap="butt"/>
<rect x="696.5" y="1758.5" width="20" height="20" fill="#000"/>
<line x1="738.51" y1="1742.916884474647" x2="738.51" y2="1798.588604286461" stroke="#000" stroke-width="5" stroke-linecap="butt"/>
<line x1="727.51" y1="1742.916884474647" x2="749.51" y2="1742.916884474647" stroke="#000" stroke-width="4.2" stroke-linecap="butt"/>
<line x1="727.51" y1="1798.588604286461" x2="749.51" y2="1798.588604286461" stroke="#000" stroke-width="4.2" stroke-linecap="butt"/>
<rect x="728.5" y="1758.5" width="20" height="20" fill="#000"/>
<line x1="770.54" y1="1754.1557762676425" x2="770.54" y2="1797.2817564035545" stroke="#000" stroke-width="5" stroke-linecap="butt"/>
<line x1="759.54" y1="1754.1557762676425" x2="781.54" y2="1754.1557762676425" stroke="#000" stroke-width="4.2" stroke-linecap="butt"/>
<line x1="759.54" y1="1797.2817564035545" x2="781.54" y2="1797.2817564035545" stroke="#000" stroke-width="4.2" stroke-linecap="butt"/>
<rect x="760.5" y="1763.8" width="20" height="20" fill="#000"/>
<line x1="802.5699999999999" y1="1750.2352326189232" x2="802.5699999999999" y2="1803.8159958180868" stroke="#000" stroke-width="5" stroke-linecap="butt"/>
<line x1="791.5699999999999" y1="1750.2352326189232" x2="813.5699999999999" y2="1750.2352326189232" stroke="#000" stroke-width="4.2" stroke-linecap="butt"/>
<line x1="791.5699999999999" y1="1803.8159958180868" x2="813.5699999999999" y2="1803.8159958180868" stroke="#000" stroke-width="4.2" stroke-linecap="butt"/>
<rect x="792.6" y="1769.0" width="20" height="20" fill="#000"/>
<line x1="834.6" y1="1742.916884474647" x2="834.6" y2="1797.2817564035545" stroke="#000" stroke-width="5" stroke-linecap="butt"/>
<line x1="823.6" y1="1742.916884474647" x2="845.6" y2="1742.916884474647" stroke="#000" stroke-width="4.2" stroke-linecap="butt"/>
<line x1="823.6" y1="1797.2817564035545" x2="845.6" y2="1797.2817564035545" stroke="#000" stroke-width="4.2" stroke-linecap="butt"/>
<rect x="824.6" y="1759.8" width="20" height="20" fill="#000"/>
<line x1="866.63" y1="1738.4736016727652" x2="866.63" y2="1790.7475169890224" stroke="#000" stroke-width="5" stroke-linecap="butt"/>
<line x1="855.63" y1="1738.4736016727652" x2="877.63" y2="1738.4736016727652" stroke="#000" stroke-width="4.2" stroke-linecap="butt"/>
<line x1="855.63" y1="1790.7475169890224" x2="877.63" y2="1790.7475169890224" stroke="#000" stroke-width="4.2" stroke-linecap="butt"/>
<rect x="856.6" y="1753.3" width="20" height="20" fill="#000"/>
<line x1="898.66" y1="1750.2352326189232" x2="898.66" y2="1802.5091479351804" stroke="#000" stroke-width="5" stroke-linecap="butt"/>
<line x1="887.66" y1="1750.2352326189232" x2="909.66" y2="1750.2352326189232" stroke="#000" stroke-width="4.2" stroke-linecap="butt"/>
<line x1="887.66" y1="1802.5091479351804" x2="909.66" y2="1802.5091479351804" stroke="#000" stroke-width="4.2" stroke-linecap="butt"/>
<rect x="888.7" y="1766.4" width="20" height="20" fill="#000"/>
<line x1="930.6899999999999" y1="1738.4736016727652" x2="930.6899999999999" y2="1789.440669106116" stroke="#000" stroke-width="5" stroke-linecap="butt"/>
<line x1="919.6899999999999" y1="1738.4736016727652" x2="941.6899999999999" y2="1738.4736016727652" stroke="#000" stroke-width="4.2" stroke-linecap="butt"/>
<line x1="919.6899999999999" y1="1789.440669106116" x2="941.6899999999999" y2="1789.440669106116" stroke="#000" stroke-width="4.2" stroke-linecap="butt"/>
<rect x="920.7" y="1757.2" width="20" height="20" fill="#000"/>
<line x1="194.0" y1="1464.035546262415" x2="194.0" y2="1502.9796131730266" stroke="#000" stroke-width="5" stroke-linecap="butt"/>
<line x1="183.0" y1="1464.035546262415" x2="205.0" y2="1464.035546262415" stroke="#000" stroke-width="4.2" stroke-linecap="butt"/>
<line x1="183.0" y1="1502.9796131730266" x2="205.0" y2="1502.9796131730266" stroke="#000" stroke-width="4.2" stroke-linecap="butt"/>
<line x1="226.03" y1="1584.2655514898065" x2="226.03" y2="1614.3230527966546" stroke="#000" stroke-width="5" stroke-linecap="butt"/>
<line x1="215.03" y1="1584.2655514898065" x2="237.03" y2="1584.2655514898065" stroke="#000" stroke-width="4.2" stroke-linecap="butt"/>
<line x1="215.03" y1="1614.3230527966546" x2="237.03" y2="1614.3230527966546" stroke="#000" stroke-width="4.2" stroke-linecap="butt"/>
<line x1="258.06" y1="1609.0956612650289" x2="258.06" y2="1648.3010977522217" stroke="#000" stroke-width="5" stroke-linecap="butt"/>
<line x1="247.06" y1="1609.0956612650289" x2="269.06" y2="1609.0956612650289" stroke="#000" stroke-width="4.2" stroke-linecap="butt"/>
<line x1="247.06" y1="1648.3010977522217" x2="269.06" y2="1648.3010977522217" stroke="#000" stroke-width="4.2" stroke-linecap="butt"/>
<line x1="290.09" y1="1660.8468374281233" x2="290.09" y2="1692.7339257710403" stroke="#000" stroke-width="5" stroke-linecap="butt"/>
<line x1="279.09" y1="1660.8468374281233" x2="301.09" y2="1660.8468374281233" stroke="#000" stroke-width="4.2" stroke-linecap="butt"/>
<line x1="279.09" y1="1692.7339257710403" x2="301.09" y2="1692.7339257710403" stroke="#000" stroke-width="4.2" stroke-linecap="butt"/>
<line x1="322.12" y1="1708.4161003659174" x2="322.12" y2="1739.7804495556718" stroke="#000" stroke-width="5" stroke-linecap="butt"/>
<line x1="311.12" y1="1708.4161003659174" x2="333.12" y2="1708.4161003659174" stroke="#000" stroke-width="4.2" stroke-linecap="butt"/>
<line x1="311.12" y1="1739.7804495556718" x2="333.12" y2="1739.7804495556718" stroke="#000" stroke-width="4.2" stroke-linecap="butt"/>
<line x1="354.15" y1="1733.2462101411395" x2="354.15" y2="1775.0653423941453" stroke="#000" stroke-width="5" stroke-linecap="butt"/>
<line x1="343.15" y1="1733.2462101411395" x2="365.15" y2="1733.2462101411395" stroke="#000" stroke-width="4.2" stroke-linecap="butt"/>
<line x1="343.15" y1="1775.0653423941453" x2="365.15" y2="1775.0653423941453" stroke="#000" stroke-width="4.2" stroke-linecap="butt"/>
<line x1="386.17999999999995" y1="1769.8379508625196" x2="386.17999999999995" y2="1798.588604286461" stroke="#000" stroke-width="5" stroke-linecap="butt"/>
<line x1="375.17999999999995" y1="1769.8379508625196" x2="397.17999999999995" y2="1769.8379508625196" stroke="#000" stroke-width="4.2" stroke-linecap="butt"/>
<line x1="375.17999999999995" y1="1798.588604286461" x2="397.17999999999995" y2="1798.588604286461" stroke="#000" stroke-width="4.2" stroke-linecap="butt"/>
<line x1="418.21" y1="1806.6910611604808" x2="418.21" y2="1811.3957135389442" stroke="#000" stroke-width="5" stroke-linecap="butt"/>
<line x1="407.21" y1="1806.6910611604808" x2="429.21" y2="1806.6910611604808" stroke="#000" stroke-width="4.2" stroke-linecap="butt"/>
<line x1="407.21" y1="1811.3957135389442" x2="429.21" y2="1811.3957135389442" stroke="#000" stroke-width="4.2" stroke-linecap="butt"/>
<line x1="450.24" y1="1789.440669106116" x2="450.24" y2="1816.100365917407" stroke="#000" stroke-width="5" stroke-linecap="butt"/>
<line x1="439.24" y1="1789.440669106116" x2="461.24" y2="1789.440669106116" stroke="#000" stroke-width="4.2" stroke-linecap="butt"/>
<line x1="439.24" y1="1816.100365917407" x2="461.24" y2="1816.100365917407" stroke="#000" stroke-width="4.2" stroke-linecap="butt"/>
<line x1="482.27" y1="1810.6116048092003" x2="482.27" y2="1815.3162571876633" stroke="#000" stroke-width="5" stroke-linecap="butt"/>
<line x1="471.27" y1="1810.6116048092003" x2="493.27" y2="1810.6116048092003" stroke="#000" stroke-width="4.2" stroke-linecap="butt"/>
<line x1="471.27" y1="1815.3162571876633" x2="493.27" y2="1815.3162571876633" stroke="#000" stroke-width="4.2" stroke-linecap="butt"/>
<line x1="514.3" y1="1797.2817564035545" x2="514.3" y2="1818.1913225300575" stroke="#000" stroke-width="5" stroke-linecap="butt"/>
<line x1="503.29999999999995" y1="1797.2817564035545" x2="525.3" y2="1797.2817564035545" stroke="#000" stroke-width="4.2" stroke-linecap="butt"/>
<line x1="503.29999999999995" y1="1818.1913225300575" x2="525.3" y2="1818.1913225300575" stroke="#000" stroke-width="4.2" stroke-linecap="butt"/>
<line x1="546.3299999999999" y1="1823.6800836382645" x2="546.3299999999999" y2="1828.3847360167276" stroke="#000" stroke-width="5" stroke-linecap="butt"/>
<line x1="535.3299999999999" y1="1823.6800836382645" x2="557.3299999999999" y2="1823.6800836382645" stroke="#000" stroke-width="4.2" stroke-linecap="butt"/>
<line x1="535.3299999999999" y1="1828.3847360167276" x2="557.3299999999999" y2="1828.3847360167276" stroke="#000" stroke-width="4.2" stroke-linecap="butt"/>
<line x1="578.3599999999999" y1="1819.7595399895451" x2="578.3599999999999" y2="1824.4641923680083" stroke="#000" stroke-width="5" stroke-linecap="butt"/>
<line x1="567.3599999999999" y1="1819.7595399895451" x2="589.3599999999999" y2="1819.7595399895451" stroke="#000" stroke-width="4.2" stroke-linecap="butt"/>
<line x1="567.3599999999999" y1="1824.4641923680083" x2="589.3599999999999" y2="1824.4641923680083" stroke="#000" stroke-width="4.2" stroke-linecap="butt"/>
<line x1="610.39" y1="1780.292733925771" x2="610.39" y2="1809.0433873497125" stroke="#000" stroke-width="5" stroke-linecap="butt"/>
<line x1="599.39" y1="1780.292733925771" x2="621.39" y2="1780.292733925771" stroke="#000" stroke-width="4.2" stroke-linecap="butt"/>
<line x1="599.39" y1="1809.0433873497125" x2="621.39" y2="1809.0433873497125" stroke="#000" stroke-width="4.2" stroke-linecap="butt"/>
<line x1="642.42" y1="1759.3831677992682" x2="642.42" y2="1793.3612127548354" stroke="#000" stroke-width="5" stroke-linecap="butt"/>
<line x1="631.42" y1="1759.3831677992682" x2="653.42" y2="1759.3831677992682" stroke="#000" stroke-width="4.2" stroke-linecap="butt"/>
<line x1="631.42" y1="1793.3612127548354" x2="653.42" y2="1793.3612127548354" stroke="#000" stroke-width="4.2" stroke-linecap="butt"/>
<line x1="674.45" y1="1752.848928384736" x2="674.45" y2="1786.826973340303" stroke="#000" stroke-width="5" stroke-linecap="butt"/>
<line x1="663.45" y1="1752.848928384736" x2="685.45" y2="1752.848928384736" stroke="#000" stroke-width="4.2" stroke-linecap="butt"/>
<line x1="663.45" y1="1786.826973340303" x2="685.45" y2="1786.826973340303" stroke="#000" stroke-width="4.2" stroke-linecap="butt"/>
<line x1="706.48" y1="1746.3146889702039" x2="706.48" y2="1792.054364871929" stroke="#000" stroke-width="5" stroke-linecap="butt"/>
<line x1="695.48" y1="1746.3146889702039" x2="717.48" y2="1746.3146889702039" stroke="#000" stroke-width="4.2" stroke-linecap="butt"/>
<line x1="695.48" y1="1792.054364871929" x2="717.48" y2="1792.054364871929" stroke="#000" stroke-width="4.2" stroke-linecap="butt"/>
<line x1="738.51" y1="1764.610559330894" x2="738.51" y2="1802.5091479351804" stroke="#000" stroke-width="5" stroke-linecap="butt"/>
<line x1="727.51" y1="1764.610559330894" x2="749.51" y2="1764.610559330894" stroke="#000" stroke-width="4.2" stroke-linecap="butt"/>
<line x1="727.51" y1="1802.5091479351804" x2="749.51" y2="1802.5091479351804" stroke="#000" stroke-width="4.2" stroke-linecap="butt"/>
<line x1="770.54" y1="1756.7694720334553" x2="770.54" y2="1792.054364871929" stroke="#000" stroke-width="5" stroke-linecap="butt"/>
<line x1="759.54" y1="1756.7694720334553" x2="781.54" y2="1756.7694720334553" stroke="#000" stroke-width="4.2" stroke-linecap="butt"/>
<line x1="759.54" y1="1792.054364871929" x2="781.54" y2="1792.054364871929" stroke="#000" stroke-width="4.2" stroke-linecap="butt"/>
<line x1="802.5699999999999" y1="1755.462624150549" x2="802.5699999999999" y2="1801.202300052274" stroke="#000" stroke-width="5" stroke-linecap="butt"/>
<line x1="791.5699999999999" y1="1755.462624150549" x2="813.5699999999999" y2="1755.462624150549" stroke="#000" stroke-width="4.2" stroke-linecap="butt"/>
<line x1="791.5699999999999" y1="1801.202300052274" x2="813.5699999999999" y2="1801.202300052274" stroke="#000" stroke-width="4.2" stroke-linecap="butt"/>
<line x1="834.6" y1="1773.758494511239" x2="834.6" y2="1803.8159958180868" stroke="#000" stroke-width="5" stroke-linecap="butt"/>
<line x1="823.6" y1="1773.758494511239" x2="845.6" y2="1773.758494511239" stroke="#000" stroke-width="4.2" stroke-linecap="butt"/>
<line x1="823.6" y1="1803.8159958180868" x2="845.6" y2="1803.8159958180868" stroke="#000" stroke-width="4.2" stroke-linecap="butt"/>
<line x1="866.63" y1="1752.848928384736" x2="866.63" y2="1789.440669106116" stroke="#000" stroke-width="5" stroke-linecap="butt"/>
<line x1="855.63" y1="1752.848928384736" x2="877.63" y2="1752.848928384736" stroke="#000" stroke-width="4.2" stroke-linecap="butt"/>
<line x1="855.63" y1="1789.440669106116" x2="877.63" y2="1789.440669106116" stroke="#000" stroke-width="4.2" stroke-linecap="butt"/>
<line x1="898.66" y1="1738.4736016727652" x2="898.66" y2="1775.0653423941453" stroke="#000" stroke-width="5" stroke-linecap="butt"/>
<line x1="887.66" y1="1738.4736016727652" x2="909.66" y2="1738.4736016727652" stroke="#000" stroke-width="4.2" stroke-linecap="butt"/>
<line x1="887.66" y1="1775.0653423941453" x2="909.66" y2="1775.0653423941453" stroke="#000" stroke-width="4.2" stroke-linecap="butt"/>
<line x1="930.6899999999999" y1="1743.7009932043911" x2="930.6899999999999" y2="1777.679038159958" stroke="#000" stroke-width="5" stroke-linecap="butt"/>
<line x1="919.6899999999999" y1="1743.7009932043911" x2="941.6899999999999" y2="1743.7009932043911" stroke="#000" stroke-width="4.2" stroke-linecap="butt"/>
<line x1="919.6899999999999" y1="1777.679038159958" x2="941.6899999999999" y2="1777.679038159958" stroke="#000" stroke-width="4.2" stroke-linecap="butt"/>
<circle cx="194.0" cy="1482.7" r="8" fill="#7c7c7c" stroke="#000" stroke-width="1.6" stroke-dasharray="3.2 2.2"/>
<circle cx="226.0" cy="1599.9" r="8" fill="#7c7c7c" stroke="#000" stroke-width="1.6" stroke-dasharray="3.2 2.2"/>
<circle cx="258.1" cy="1629.5" r="8" fill="#7c7c7c" stroke="#000" stroke-width="1.6" stroke-dasharray="3.2 2.2"/>
<circle cx="290.1" cy="1676.5" r="8" fill="#7c7c7c" stroke="#000" stroke-width="1.6" stroke-dasharray="3.2 2.2"/>
<circle cx="322.1" cy="1724.1" r="8" fill="#7c7c7c" stroke="#000" stroke-width="1.6" stroke-dasharray="3.2 2.2"/>
<circle cx="354.1" cy="1752.8" r="8" fill="#7c7c7c" stroke="#000" stroke-width="1.6" stroke-dasharray="3.2 2.2"/>
<circle cx="386.2" cy="1784.2" r="8" fill="#7c7c7c" stroke="#000" stroke-width="1.6" stroke-dasharray="3.2 2.2"/>
<circle cx="418.2" cy="1809.0" r="8" fill="#7c7c7c" stroke="#000" stroke-width="1.6" stroke-dasharray="3.2 2.2"/>
<circle cx="450.2" cy="1802.5" r="8" fill="#7c7c7c" stroke="#000" stroke-width="1.6" stroke-dasharray="3.2 2.2"/>
<circle cx="482.3" cy="1813.0" r="8" fill="#7c7c7c" stroke="#000" stroke-width="1.6" stroke-dasharray="3.2 2.2"/>
<circle cx="514.3" cy="1807.7" r="8" fill="#7c7c7c" stroke="#000" stroke-width="1.6" stroke-dasharray="3.2 2.2"/>
<circle cx="546.3" cy="1826.0" r="8" fill="#7c7c7c" stroke="#000" stroke-width="1.6" stroke-dasharray="3.2 2.2"/>
<circle cx="578.4" cy="1822.1" r="8" fill="#7c7c7c" stroke="#000" stroke-width="1.6" stroke-dasharray="3.2 2.2"/>
<circle cx="610.4" cy="1794.1" r="8" fill="#7c7c7c" stroke="#000" stroke-width="1.6" stroke-dasharray="3.2 2.2"/>
<circle cx="642.4" cy="1776.4" r="8" fill="#7c7c7c" stroke="#000" stroke-width="1.6" stroke-dasharray="3.2 2.2"/>
<circle cx="674.5" cy="1769.8" r="8" fill="#7c7c7c" stroke="#000" stroke-width="1.6" stroke-dasharray="3.2 2.2"/>
<circle cx="706.5" cy="1768.5" r="8" fill="#7c7c7c" stroke="#000" stroke-width="1.6" stroke-dasharray="3.2 2.2"/>
<circle cx="738.5" cy="1782.9" r="8" fill="#7c7c7c" stroke="#000" stroke-width="1.6" stroke-dasharray="3.2 2.2"/>
<circle cx="770.5" cy="1773.8" r="8" fill="#7c7c7c" stroke="#000" stroke-width="1.6" stroke-dasharray="3.2 2.2"/>
<circle cx="802.6" cy="1779.0" r="8" fill="#7c7c7c" stroke="#000" stroke-width="1.6" stroke-dasharray="3.2 2.2"/>
<circle cx="834.6" cy="1788.7" r="8" fill="#7c7c7c" stroke="#000" stroke-width="1.6" stroke-dasharray="3.2 2.2"/>
<circle cx="866.6" cy="1771.1" r="8" fill="#7c7c7c" stroke="#000" stroke-width="1.6" stroke-dasharray="3.2 2.2"/>
<circle cx="898.7" cy="1756.8" r="8" fill="#7c7c7c" stroke="#000" stroke-width="1.6" stroke-dasharray="3.2 2.2"/>
<circle cx="930.7" cy="1760.7" r="8" fill="#7c7c7c" stroke="#000" stroke-width="1.6" stroke-dasharray="3.2 2.2"/>
<rect x="546" y="1375.5" width="33.7" height="33.5" rx="3" fill="#000"/>
<rect x="546" y="1434.5" width="33.7" height="33.5" rx="3" fill="#777"/>
<text x="586.3" y="1403.5" font-size="36" text-anchor="start" font-weight="normal" fill="#000" textLength="191.4" lengthAdjust="spacingAndGlyphs">PBS Treated</text>
<text x="589.7" y="1463" font-size="36" text-anchor="start" font-weight="normal" fill="#000" textLength="311.3" lengthAdjust="spacingAndGlyphs">5mg/kg laquinimod</text>
</svg></body></html>
